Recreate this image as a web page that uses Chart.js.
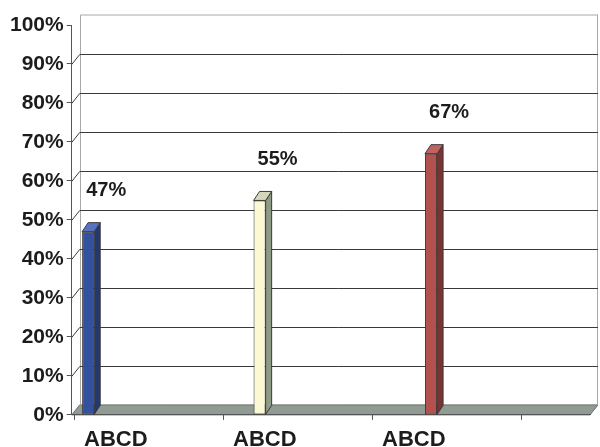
<!DOCTYPE html>
<html>
<head>
<meta charset="utf-8">
<script src="https://cdn.jsdelivr.net/npm/chart.js@4.4.1/dist/chart.umd.min.js"></script>
<style>
  html, body { margin: 0; padding: 0; background: #ffffff; overflow: hidden; }
  #frame { width: 600px; height: 447px; overflow: hidden; }
  #chart { display: block; }
</style>
</head>
<body>
<div id="frame"><canvas id="chart" width="600" height="460"></canvas></div>
<script>
// Category labels and the three series (one column each, percent)
const categories = ['ABCD', 'ABCD', 'ABCD'];
const seriesBlue  = [47, null, null];
const seriesCream = [null, 55, null];
const seriesRed   = [null, null, 67];
const yTickValues = [0, 10, 20, 30, 40, 50, 60, 70, 80, 90, 100];

// Oblique offsets used for the pseudo-3D walls, floor and column faces
const WALL = { dx: 8, dy: -10 };
const COL = { dx: 6, dy: -9 };
const FONT = '"Liberation Sans", Arial, Helvetica, sans-serif';
const TEXT = '#1c1c1c';

const faces = [
  { front: '#34519f', top: '#5672c0', side: '#22386f' },
  { front: '#fbf8d4', top: '#d3d8b6', side: '#8e9c86' },
  { front: '#b4514e', top: '#c2625e', side: '#7a3331' }
];

const toPoints = arr => arr.map((v, i) => ({ x: i, y: v }));

const threeD = {
  id: 'threeD',
  beforeDraw(chart) {
    const { ctx, chartArea: a, scales: { y } } = chart;
    ctx.save();
    ctx.fillStyle = '#ffffff';
    ctx.fillRect(0, 0, chart.width, chart.height);

    const L = a.left, R = a.right, B = a.bottom, T = y.getPixelForValue(100);

    // floor
    ctx.beginPath();
    ctx.moveTo(L, B);
    ctx.lineTo(L + WALL.dx, B + WALL.dy);
    ctx.lineTo(R + WALL.dx, B + WALL.dy);
    ctx.lineTo(R, B);
    ctx.closePath();
    ctx.fillStyle = '#909b94';
    ctx.fill();
    ctx.strokeStyle = '#6a726d';
    ctx.lineWidth = 1;
    ctx.stroke();

    // back wall outline
    ctx.strokeStyle = '#a8a8a8';
    ctx.beginPath();
    ctx.moveTo(Math.round(L + WALL.dx) + 0.5, B + WALL.dy);
    ctx.lineTo(Math.round(L + WALL.dx) + 0.5, T + WALL.dy);
    ctx.lineTo(R + WALL.dx, T + WALL.dy);
    ctx.lineTo(Math.round(R + WALL.dx) - 0.5, T + WALL.dy);
    ctx.lineTo(Math.round(R + WALL.dx) - 0.5, B + WALL.dy);
    ctx.stroke();

    // gridlines on the back wall with their links to the value axis
    ctx.strokeStyle = '#3a3a3a';
    y.ticks.forEach(t => {
      if (t.value <= 0 || t.value >= 100) return;
      const py = Math.round(y.getPixelForValue(t.value)) + 0.5;
      ctx.beginPath();
      ctx.moveTo(L, py);
      ctx.lineTo(L + WALL.dx, py + WALL.dy);
      ctx.lineTo(R + WALL.dx, py + WALL.dy);
      ctx.stroke();
    });
    ctx.restore();
  },
  afterDatasetsDraw(chart) {
    const { ctx } = chart;
    ctx.save();
    ctx.lineWidth = 1;
    ctx.strokeStyle = '#3a3a3a';
    chart.data.datasets.forEach((ds, i) => {
      const meta = chart.getDatasetMeta(i);
      const f = faces[i];
      meta.data.forEach((el, j) => {
        const v = ds.data[j].y;
        if (v === null || v === undefined) return;
        const { x, y, width, base } = el.getProps(['x', 'y', 'width', 'base'], true);
        const l = x - width / 2, r = x + width / 2;
        // right side face
        ctx.beginPath();
        ctx.moveTo(r, y);
        ctx.lineTo(r + COL.dx, y + COL.dy);
        ctx.lineTo(r + COL.dx, base + COL.dy);
        ctx.lineTo(r, base);
        ctx.closePath();
        ctx.fillStyle = f.side;
        ctx.fill();
        ctx.stroke();
        // top face
        ctx.beginPath();
        ctx.moveTo(l, y);
        ctx.lineTo(l + COL.dx, y + COL.dy);
        ctx.lineTo(r + COL.dx, y + COL.dy);
        ctx.lineTo(r, y);
        ctx.closePath();
        ctx.fillStyle = f.top;
        ctx.fill();
        ctx.stroke();
        // value label
        ctx.fillStyle = TEXT;
        ctx.font = 'bold 20px ' + FONT;
        ctx.textAlign = 'center';
        ctx.textBaseline = 'middle';
        ctx.fillText(v + '%', x + 18, y - 41);
      });
    });
    ctx.restore();
  }
};

new Chart(document.getElementById('chart'), {
  type: 'bar',
  data: {
    datasets: [
      { data: toPoints(seriesBlue),  backgroundColor: faces[0].front },
      { data: toPoints(seriesCream), backgroundColor: faces[1].front },
      { data: toPoints(seriesRed),   backgroundColor: faces[2].front }
    ]
  },
  options: {
    responsive: false,
    animation: false,
    devicePixelRatio: 1,
    layout: { padding: { left: 7, right: 10, top: 25, bottom: 0 } },
    datasets: {
      bar: {
        categoryPercentage: 0.4515,
        barPercentage: 0.54,
        borderWidth: 1,
        borderColor: '#3a3a3a',
        borderSkipped: false
      }
    },
    plugins: { legend: { display: false }, tooltip: { enabled: false } },
    scales: {
      x: {
        type: 'linear',
        offset: false,
        min: -0.2609,
        max: 3.2174,
        afterBuildTicks: s => { s.ticks = [0, 1, 2, 3].map(k => ({ value: k - 0.24 })); },
        grid: { offset: false, drawOnChartArea: false, tickLength: 5, color: '#555555' },
        border: { color: '#555555' },
        ticks: {
          autoSkip: false,
          maxRotation: 0,
          labelOffset: 41,
          padding: 14,
          color: TEXT,
          font: { family: FONT, size: 22, weight: 'bold', lineHeight: 0.55 },
          callback: (v, i) => categories[i] || ''
        }
      },
      y: {
        min: 0,
        max: 100,
        afterBuildTicks: s => { s.ticks = yTickValues.map(v => ({ value: v })); },
        grid: { drawOnChartArea: false, tickLength: 5, color: '#555555' },
        border: { color: '#555555' },
        ticks: {
          padding: 3,
          color: TEXT,
          font: { family: FONT, size: 21, weight: 'bold' },
          callback: v => v + '%'
        }
      }
    }
  },
  plugins: [threeD]
});
</script>
</body>
</html>
